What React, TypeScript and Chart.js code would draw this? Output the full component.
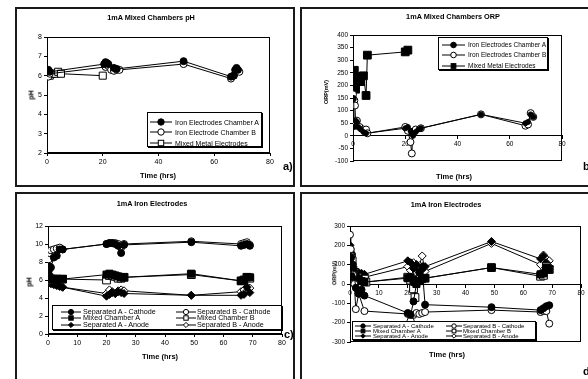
import React, { useEffect, useRef } from 'react';
import { Chart, registerables } from 'chart.js';
Chart.register(...registerables);

const FONT = '"Liberation Sans", Arimo, Arial, Helvetica, sans-serif';
Chart.defaults.font.family = FONT;

// ---------------- Panel a: 1mA Mixed Chambers pH ----------------
const aTitle = '1mA Mixed Chambers pH';
const aLabels = ['Iron Electrodes Chamber A', 'Iron Electrode Chamber B', 'Mixed Metal Electrodes'];
const aTimeA = [0, 0.5, 1, 20.5, 21, 21.5, 22, 24, 25, 49, 66, 67, 67.5, 68, 68.5];
const aPhA = [6.2, 6.3, 6.2, 6.6, 6.7, 6.65, 6.6, 6.4, 6.35, 6.75, 5.95, 6.0, 6.3, 6.4, 6.3];
const aTimeB = [0, 0.5, 1, 21, 22, 23, 24, 25, 26, 49, 66, 67, 68, 69];
const aPhB = [6.1, 5.95, 6.1, 6.45, 6.5, 6.3, 6.25, 6.3, 6.3, 6.6, 5.85, 6.0, 6.25, 6.2];
const aTimeM = [0, 0.5, 1, 2, 3, 4, 5, 20];
const aPhM = [6.2, 6.1, 6.0, 6.1, 6.1, 6.2, 6.1, 6.0];

// ---------------- Panel b: 1mA Mixed Chambers ORP ----------------
const bTitle = '1mA Mixed Chambers ORP';
const bLabels = ['Iron Electrodes Chamber A', 'Iron Electrodes Chamber B', 'Mixed Metal Electrodes'];
const bTimeA = [0, 0.25, 0.5, 1, 1.5, 2, 3, 4, 5, 20, 21, 22, 22.5, 23, 24, 25, 26, 49, 66, 67, 68, 69];
const bOrpA = [150, 145, 35, 60, 55, 35, 25, 15, 10, 30, 35, 20, 10, 0, 15, 25, 30, 85, 50, 55, 85, 75];
const bTimeB = [0, 0.25, 0.5, 0.75, 1, 1.5, 2.5, 4, 5, 5.5, 20, 21, 22, 22.5, 23, 24, 26, 49, 66, 67, 68, 69];
const bOrpB = [165, 145, 140, 120, 50, 60, 35, 25, 25, 10, 35, 20, -25, -70, 15, 25, 30, 85, 40, 45, 90, 75];
const bTimeM = [0, 0.25, 0.5, 1, 1.5, 2, 3, 4, 5, 5.5, 20, 21];
const bOrpM = [220, 255, 260, 185, 235, 215, 215, 238, 160, 320, 333, 340];

// ---------------- Panel c: 1mA Iron Electrodes pH ----------------
const cTitle = '1mA Iron Electrodes';
const cdLabels = ['Separated A - Cathode', 'Separated B - Cathode', 'Mixed Chamber A', 'Mixed Chamber B', 'Separated A - Anode', 'Separated B - Anode'];
const cTimeSep = [0, 0.25, 0.5, 1, 2, 3, 4, 5, 20, 21, 22, 23, 24, 25, 26, 49, 66, 67, 68, 69];
const cPhSepACath = [6.3, 7.0, 7.5, 7.4, 8.5, 8.7, 9.4, 9.4, 10.0, 10.1, 10.1, 10.0, 9.8, 9.0, 9.9, 10.2, 9.8, 9.9, 10.0, 9.8];
const cPhSepBCath = [7.0, 8.3, 9.0, 9.3, 9.4, 9.5, 9.6, 9.4, 10.0, 10.1, 10.1, 10.1, 10.0, 9.6, 10.0, 10.3, 10.0, 10.1, 10.2, 9.9];
const cTimeMix = [0, 0.5, 1, 2, 3, 5, 20, 21, 22, 23, 24, 25, 26, 49, 66, 67, 68, 69];
const cPhMixA = [6.2, 6.3, 6.1, 6.1, 6.1, 6.1, 6.6, 6.7, 6.6, 6.5, 6.4, 6.3, 6.3, 6.7, 5.9, 6.0, 6.3, 6.3];
const cPhMixB = [6.1, 6.0, 6.1, 6.1, 6.1, 6.1, 6.0, 6.5, 6.5, 6.4, 6.2, 6.2, 6.3, 6.6, 5.9, 6.0, 6.3, 6.2];
const cTimeAnode = [0, 0.5, 1, 2, 3, 4, 5, 20, 21, 22, 23, 24, 25, 26, 49, 66, 67, 68, 69];
const cPhSepAAn = [6.0, 5.8, 5.6, 5.5, 5.4, 5.3, 5.2, 4.2, 4.4, 4.6, 4.5, 4.7, 4.6, 4.5, 4.3, 4.3, 4.4, 5.2, 4.6];
const cPhSepBAn = [6.0, 5.7, 5.6, 5.5, 5.4, 5.3, 5.2, 4.5, 4.9, 4.7, 4.5, 4.8, 4.9, 4.8, 4.3, 4.7, 4.9, 4.8, 5.1];

// ---------------- Panel d: 1mA Iron Electrodes ORP ----------------
const dTitle = '1mA Iron Electrodes';
const dTimeSepACath = [0, 0.25, 0.5, 1, 2, 3, 4, 5, 20, 21, 22, 23, 24, 25, 26, 49, 66, 67, 68, 69];
const dOrpSepACath = [120, 140, 40, 100, -20, -50, -30, -60, -150, -160, -90, 0, 60, 80, -107, -120, -135, -125, -115, -110];
const dTimeSepBCath = [0, 0.25, 0.5, 1, 1.5, 2, 3, 5, 20, 21, 22, 23, 24, 25, 26, 49, 66, 67, 68, 69];
const dOrpSepBCath = [255, 180, 145, 50, 0, -130, -50, -140, -155, -190, -160, -150, -155, -150, -145, -135, -145, -140, -140, -205];
const dTimeAnode = [0, 0.25, 0.5, 1, 2, 3, 4, 5, 20, 21, 22, 23, 24, 25, 26, 49, 66, 67, 68, 69];
const dOrpSepAAn = [200, 130, 110, 90, 70, 60, 55, 50, 120, 110, 80, 100, 60, 90, 90, 220, 130, 145, 110, 90];
const dOrpSepBAn = [170, 100, 80, 60, 50, 45, 40, 35, 90, 70, 110, 100, 95, 145, 65, 210, 100, 150, 130, 120];

// ---------------- Shared text ----------------
const xAxisTitle = 'Time (hrs)';
const phAxisTitle = 'pH';
const orpAxisTitle = 'ORP(mV)';
const panelTags = ['a)', 'b)', 'c)', 'd)'];

type Shape = 'circle' | 'rect' | 'rectRot';
type Series = { label: string; x: number[]; y: number[]; shape: Shape; filled: boolean; r: number };

const framePlugin = {
  id: 'plotFrame',
  beforeDatasetsDraw(chart: any) {
    const { ctx, chartArea: a } = chart;
    ctx.save();
    ctx.strokeStyle = '#000';
    ctx.lineWidth = 1;
    ctx.strokeRect(Math.round(a.left) + 0.5, Math.round(a.top) + 0.5, Math.round(a.width) - 1, Math.round(a.height) - 1);
    ctx.restore();
  },
};

type Geo = { box: number[]; plot: number[] };

function PlotCanvas(props: {
  geo: Geo; series: Series[]; yMin: number; yMax: number; yStep: number; xStep: number; cross: boolean; tick: number;
}) {
  const ref = useRef<HTMLCanvasElement>(null);
  const { geo, series, yMin, yMax, yStep, xStep, cross, tick } = props;
  const [bx, by, bw, bh] = geo.box;
  const [pl, pt, pr, pb] = geo.plot;
  useEffect(() => {
    const datasets = series.map((s) => ({
      label: s.label,
      data: s.x.map((t, i) => ({ x: t, y: s.y[i] })),
      borderColor: '#000',
      borderWidth: 1,
      pointStyle: s.shape,
      pointRadius: s.r,
      pointBackgroundColor: s.filled ? '#000' : '#fff',
      pointBorderColor: '#000',
      pointBorderWidth: 1,
      fill: false,
      tension: 0,
    }));
    const leftW = pl - bx;
    const bottomH = by + bh - pb;
    const chart = new Chart(ref.current as HTMLCanvasElement, {
      type: 'line',
      data: { datasets: datasets as any },
      options: {
        responsive: false,
        animation: false,
        devicePixelRatio: 1,
        layout: { padding: { left: 0, top: pt - by, right: bx + bw - pr, bottom: cross ? bottomH : 0 } },
        plugins: { legend: { display: false }, title: { display: false }, tooltip: { enabled: false } },
        scales: {
          x: {
            type: 'linear',
            min: 0,
            max: 80,
            position: cross ? ({ y: 0 } as any) : 'bottom',
            afterFit: cross ? undefined : (s: any) => { s.height = bottomH; },
            ticks: { stepSize: xStep, font: { family: FONT, size: tick }, color: '#000', padding: 2, maxRotation: 0, autoSkip: false },
            grid: { drawOnChartArea: false, drawTicks: true, tickLength: 3, color: '#000', lineWidth: 1 },
            border: { display: true, color: '#000', width: 1 },
          },
          y: {
            type: 'linear',
            min: yMin,
            max: yMax,
            position: 'left',
            afterFit: (s: any) => { s.width = leftW; },
            ticks: { stepSize: yStep, font: { family: FONT, size: tick }, color: '#000', padding: 2, autoSkip: false },
            grid: { drawOnChartArea: false, drawTicks: true, tickLength: 3, color: '#000', lineWidth: 1 },
            border: { display: true, color: '#000', width: 1 },
          },
        },
      } as any,
      plugins: [framePlugin],
    });
    return () => chart.destroy();
  }, []);
  return <canvas ref={ref} width={bw} height={bh} style={{ position: 'absolute', left: -2, top: -2, width: bw, height: bh }} />;
}

function Txt(props: { o: number[]; x: number; y: number; text: string; size: number; bold?: boolean; rotate?: boolean; left?: boolean }) {
  const { o, x, y, text, size, bold, rotate, left } = props;
  return (
    <div
      style={{
        position: 'absolute', left: x - o[0] - 2, top: y - o[1] - 2, fontSize: size, fontWeight: bold ? 'bold' : 'normal',
        whiteSpace: 'nowrap', lineHeight: 1, color: '#000',
        transform: (left ? 'translate(0,-50%)' : 'translate(-50%,-50%)') + (rotate ? ' rotate(-90deg)' : ''),
      }}
    >
      {text}
    </div>
  );
}

function Marker({ s, cx, cy, r }: { s: Series; cx: number; cy: number; r: number }) {
  const fill = s.filled ? '#000' : '#fff';
  if (s.shape === 'circle') return <circle cx={cx} cy={cy} r={r} fill={fill} stroke="#000" strokeWidth={1} />;
  if (s.shape === 'rect') {
    const h = r * Math.SQRT1_2 * 1.2;
    return <rect x={cx - h} y={cy - h} width={2 * h} height={2 * h} fill={fill} stroke="#000" strokeWidth={1} />;
  }
  return <polygon points={`${cx},${cy - r} ${cx + r},${cy} ${cx},${cy + r} ${cx - r},${cy}`} fill={fill} stroke="#000" strokeWidth={1} />;
}

type LegItem = { s: Series; sx: number; sw: number; tx: number; y: number };

function Legend(props: { o: number[]; box: number[]; items: LegItem[]; font: number; mr: number }) {
  const { o, box, items, font, mr } = props;
  return (
    <>
      <div style={{ position: 'absolute', left: box[0] - o[0] - 2, top: box[1] - o[1] - 2, width: box[2], height: box[3], boxSizing: 'border-box', border: '1px solid #000', background: '#fff', boxShadow: '1px 1px 0 #000' }} />
      {items.map((it, i) => (
        <React.Fragment key={i}>
          <svg width={it.sw} height={12} style={{ position: 'absolute', left: it.sx - o[0] - 2, top: it.y - 6 - o[1] - 2, overflow: 'visible' }}>
            <line x1={0} y1={6} x2={it.sw} y2={6} stroke="#000" strokeWidth={1} />
            <Marker s={it.s} cx={it.sw / 2} cy={6} r={mr} />
          </svg>
          <Txt o={o} x={it.tx} y={it.y} text={it.s.label} size={font} left />
        </React.Fragment>
      ))}
    </>
  );
}

function Box({ box, children }: { box: number[]; children: React.ReactNode }) {
  return (
    <div style={{ position: 'absolute', left: box[0], top: box[1], width: box[2], height: box[3], boxSizing: 'border-box', border: '2px solid #1a1a1a', overflow: 'hidden', background: '#fff' }}>
      {children}
    </div>
  );
}

// ---------------- Layout (page pixels) ----------------
const geoA: Geo = { box: [15, 7, 280, 180], plot: [47, 37, 270, 153] };
const geoB: Geo = { box: [300, 7, 300, 180], plot: [353, 35, 562, 161] };
const geoC: Geo = { box: [15, 192, 280, 200], plot: [48, 226, 282, 334] };
const geoD: Geo = { box: [300, 192, 300, 200], plot: [350, 226, 581, 342] };

export default function App() {
  const sA: Series[] = [
    { label: aLabels[0], x: aTimeA, y: aPhA, shape: 'circle', filled: true, r: 3.5 },
    { label: aLabels[1], x: aTimeB, y: aPhB, shape: 'circle', filled: false, r: 3.5 },
    { label: aLabels[2], x: aTimeM, y: aPhM, shape: 'rect', filled: false, r: 5 },
  ];
  const sB: Series[] = [
    { label: bLabels[0], x: bTimeA, y: bOrpA, shape: 'circle', filled: true, r: 2.5 },
    { label: bLabels[1], x: bTimeB, y: bOrpB, shape: 'circle', filled: false, r: 3.5 },
    { label: bLabels[2], x: bTimeM, y: bOrpM, shape: 'rect', filled: true, r: 5.5 },
  ];
  const sC: Series[] = [
    { label: cdLabels[0], x: cTimeSep, y: cPhSepACath, shape: 'circle', filled: true, r: 3.5 },
    { label: cdLabels[1], x: cTimeSep, y: cPhSepBCath, shape: 'circle', filled: false, r: 3.5 },
    { label: cdLabels[2], x: cTimeMix, y: cPhMixA, shape: 'rect', filled: true, r: 5 },
    { label: cdLabels[3], x: cTimeMix, y: cPhMixB, shape: 'rect', filled: false, r: 5.5 },
    { label: cdLabels[4], x: cTimeAnode, y: cPhSepAAn, shape: 'rectRot', filled: true, r: 4 },
    { label: cdLabels[5], x: cTimeAnode, y: cPhSepBAn, shape: 'rectRot', filled: false, r: 4 },
  ];
  const sD: Series[] = [
    { label: cdLabels[0], x: dTimeSepACath, y: dOrpSepACath, shape: 'circle', filled: true, r: 3.5 },
    { label: cdLabels[1], x: dTimeSepBCath, y: dOrpSepBCath, shape: 'circle', filled: false, r: 3.5 },
    { label: cdLabels[2], x: bTimeA, y: bOrpA, shape: 'rect', filled: true, r: 5 },
    { label: cdLabels[3], x: bTimeB, y: bOrpB, shape: 'rect', filled: false, r: 5.5 },
    { label: cdLabels[4], x: dTimeAnode, y: dOrpSepAAn, shape: 'rectRot', filled: true, r: 4 },
    { label: cdLabels[5], x: dTimeAnode, y: dOrpSepBAn, shape: 'rectRot', filled: false, r: 4 },
  ];
  const oA = geoA.box, oB = geoB.box, oC = geoC.box, oD = geoD.box;
  const rowsC = [311.5, 318, 324.5];
  const rowsD = [325.5, 330.5, 335.5];
  return (
    <div style={{ position: 'absolute', left: 0, top: 0, width: 588, height: 379, overflow: 'hidden', background: '#fff', fontFamily: FONT }}>
      <Box box={oA}>
        <PlotCanvas geo={geoA} series={sA} yMin={2} yMax={8} yStep={1} xStep={20} cross={false} tick={7} />
        <Txt o={oA} x={151} y={18} text={aTitle} size={7.3} bold />
        <Txt o={oA} x={31} y={95} text={phAxisTitle} size={7} bold rotate />
        <Txt o={oA} x={158} y={176} text={xAxisTitle} size={7.5} bold />
        <Txt o={oA} x={283} y={166} text={panelTags[0]} size={11} bold left />
        <Legend o={oA} box={[147, 112, 115, 35]} font={7} mr={3.2}
          items={sA.map((s, i) => ({ s, sx: 150, sw: 22, tx: 175, y: 121.5 + i * 10.5 }))} />
      </Box>
      <Box box={oB}>
        <PlotCanvas geo={geoB} series={sB} yMin={-100} yMax={400} yStep={50} xStep={20} cross tick={6.5} />
        <Txt o={oB} x={453} y={17} text={bTitle} size={7.3} bold />
        <Txt o={oB} x={327} y={92} text={orpAxisTitle} size={5.5} bold rotate />
        <Txt o={oB} x={454} y={177} text={xAxisTitle} size={7.5} bold />
        <Txt o={oB} x={583} y={166} text={panelTags[1]} size={11} bold left />
        <Legend o={oB} box={[438, 37, 110, 33]} font={6.5} mr={2.8}
          items={sB.map((s, i) => ({ s, sx: 442, sw: 23, tx: 468, y: 44.5 + i * 10.5 }))} />
      </Box>
      <Box box={oC}>
        <PlotCanvas geo={geoC} series={sC} yMin={0} yMax={12} yStep={2} xStep={10} cross={false} tick={7} />
        <Txt o={oC} x={152} y={204} text={cTitle} size={7.3} bold />
        <Txt o={oC} x={29} y={282} text={phAxisTitle} size={7} bold rotate />
        <Txt o={oC} x={160} y={357} text={xAxisTitle} size={7.5} bold />
        <Txt o={oC} x={284} y={334} text={panelTags[2]} size={11} bold left />
        <Legend o={oC} box={[52, 305, 230, 25]} font={7.2} mr={2.6}
          items={sC.map((s, i) => ({ s, sx: i % 2 === 0 ? 61 : 176, sw: 20, tx: i % 2 === 0 ? 83 : 197, y: rowsC[Math.floor(i / 2)] }))} />
      </Box>
      <Box box={oD}>
        <PlotCanvas geo={geoD} series={sD} yMin={-300} yMax={300} yStep={100} xStep={10} cross tick={6.5} />
        <Txt o={oD} x={446} y={205} text={dTitle} size={7.3} bold />
        <Txt o={oD} x={335} y={273} text={orpAxisTitle} size={5.5} bold rotate />
        <Txt o={oD} x={447} y={355} text={xAxisTitle} size={7.5} bold />
        <Txt o={oD} x={583} y={371} text={panelTags[3]} size={11} bold left />
        <Legend o={oD} box={[352, 321, 184, 19]} font={6} mr={2.2}
          items={sD.map((s, i) => ({ s, sx: i % 2 === 0 ? 355 : 446, sw: 16, tx: i % 2 === 0 ? 373 : 463, y: rowsD[Math.floor(i / 2)] }))} />
      </Box>
    </div>
  );
}
